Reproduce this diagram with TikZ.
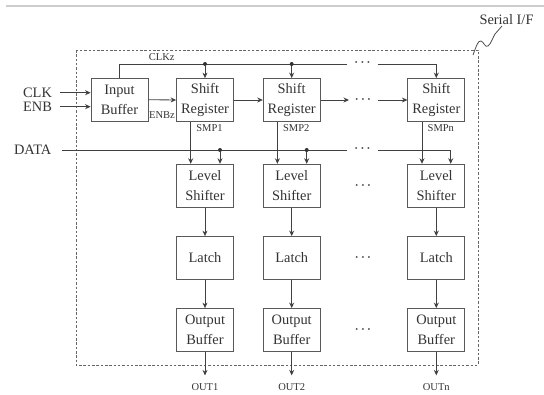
\documentclass[tikz,border=0pt]{standalone}
\usepackage{fontspec}
\setmainfont{Liberation Serif}
\usetikzlibrary{arrows.meta}
\begin{document}
\begin{tikzpicture}[x=1pt,y=-1pt,
  blk/.style={draw=black!65, line width=0.8pt, minimum width=57pt, minimum height=43pt, align=center, font=\fontsize{14.4}{20}\selectfont, text=black!80, inner sep=0pt},
  wire/.style={draw=black!75, line width=0.85pt},
  arr/.style={wire, -{Stealth[length=5.5pt,width=5pt]}},
  lbl/.style={font=\fontsize{14.4}{17}\selectfont, text=black!80, inner sep=0pt},
  sml/.style={font=\fontsize{10.5}{12}\selectfont, text=black!80, inner sep=0pt},
  jdot/.style={circle, fill=black!80, inner sep=0pt, minimum size=4pt},
  dts/.style={inner sep=0pt, text=black!75, font=\fontsize{12}{14}\selectfont\boldmath}
]
\useasboundingbox (0,0) rectangle (544,394);
% top rule
\draw[gray!40, line width=1.3pt] (6,6) -- (544,6);
% serial interface frame
\draw[black!60, line width=0.9pt, dash pattern=on 2.5pt off 1.8pt] (76,50) rectangle (478,365);
\node[lbl] (sif) at (506.5,20) {Serial I/F};
\draw[black!70, line width=0.8pt] (473,55) .. controls (476,47) and (478,40) .. (481,41) .. controls (484,42) and (485,48) .. (488,46) .. controls (491,44) and (493,37) .. (495,34) -- (502,26);

% blocks
\node[blk] (ib) at (119.5,99.7) {Input\\Buffer};
\node[blk] (sr1) at (205,100) {Shift\\Register};
\node[blk] (sr2) at (291.7,100) {Shift\\Register};
\node[blk] (sr3) at (436.3,100) {Shift\\Register};
\node[blk] (ls1) at (205,185.7) {Level\\Shifter};
\node[blk] (ls2) at (291.7,185.7) {Level\\Shifter};
\node[blk] (ls3) at (436.3,185.7) {Level\\Shifter};
\node[blk] (la1) at (205,258) {Latch};
\node[blk] (la2) at (291.7,258) {Latch};
\node[blk] (la3) at (436.3,258) {Latch};
\node[blk] (ob1) at (205,330) {Output\\Buffer};
\node[blk] (ob2) at (291.7,330) {Output\\Buffer};
\node[blk] (ob3) at (436.3,330) {Output\\Buffer};

% inputs
\node[lbl] (clk) at (37.5,92.7) {CLK};
\node[lbl] (enb) at (37.5,106.7) {ENB};
\node[lbl] (data) at (32.7,150) {DATA};
\coordinate (clks) at (60,92.7);
\coordinate (enbs) at (60,106.7);
\draw[arr] (clks) -- (clks -| ib.west);
\draw[arr] (enbs) -- (enbs -| ib.west);

% ENBz
\draw[arr] (ib.east) -- (sr1.west);
\node[sml] (enbz) at (162,115.5) {ENBz};

% CLKz bus
\node[sml] (clkz) at (161.7,56.7) {CLKz};
\coordinate (ck0) at (119.5,64);
\coordinate (ckA) at (347,64);
\coordinate (ckB) at (378,64);
\draw[wire] (ib.north) -- (ck0) -- (ckA);
\node[dts] (ckd) at (362.5,63) {$\cdots$};
\draw[arr] (ckB) -- (ckB -| sr3.north) -- (sr3.north);
\node[jdot] (cj1) at (sr1.north |- ck0) {};
\node[jdot] (cj2) at (sr2.north |- ck0) {};
\draw[arr] (cj1) -- (sr1.north);
\draw[arr] (cj2) -- (sr2.north);

% shift chain
\draw[arr] (sr1.east) -- (sr2.west);
\coordinate (srA) at (349,100);
\coordinate (srB) at (378,100);
\draw[arr] (sr2.east) -- (srA);
\node[dts] (srd) at (363,99.5) {$\cdots$};
\draw[arr] (srB) -- (sr3.west);

% SMP lines
\foreach \i/\n in {1/SMP1,2/SMP2,3/SMPn}{
  \draw[arr] ([xshift=-14.3pt]sr\i.south) -- ([xshift=-14.3pt]ls\i.north);
  \node[sml, anchor=west] (smp\i) at ([xshift=-8.8pt,yshift=-6pt]sr\i.south) {\n};
}

% DATA bus
\coordinate (ds) at (61.7,150);
\coordinate (dA) at (347,150);
\coordinate (dB) at (378,150);
\draw[wire] (ds) -- (dA);
\node[dts] (dd) at (362.5,149) {$\cdots$};
\draw[arr] (dB) -- ([xshift=14.4pt]ls3.north |- dB) -- ([xshift=14.4pt]ls3.north);
\node[jdot] (dj1) at ([xshift=15pt]ls1.north |- ds) {};
\node[jdot] (dj2) at ([xshift=15pt]ls2.north |- ds) {};
\draw[arr] (dj1) -- ([xshift=15pt]ls1.north);
\draw[arr] (dj2) -- ([xshift=15pt]ls2.north);

% column flow
\foreach \i/\o in {1/OUT1,2/OUT2,3/OUTn}{
  \draw[arr] (ls\i) -- (la\i);
  \draw[arr] (la\i) -- (ob\i);
  \coordinate (oe\i) at ([yshift=-23.5pt]ob\i.south);
  \draw[arr] (ob\i.south) -- (oe\i);
  \node[sml] (out\i) at ([yshift=-35pt]ob\i.south) {\o};
}

% column ellipses
\node[dts] (d1) at (363,186) {$\cdots$};
\node[dts] (d2) at (363,257.5) {$\cdots$};
\node[dts] (d3) at (363,330) {$\cdots$};
\end{tikzpicture}
\end{document}
